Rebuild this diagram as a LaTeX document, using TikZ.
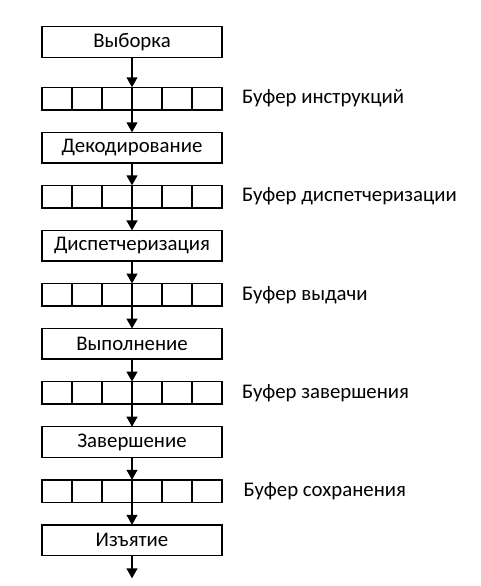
\documentclass[tikz,border=0pt]{standalone}
\usepackage{fontspec}
\setmainfont{Carlito}
\usepackage{tikz}
\usetikzlibrary{positioning, arrows.meta, calc}

\begin{document}
\begin{tikzpicture}[
    node distance=16.9pt,
    every node/.style={font=\fontsize{15.6pt}{18pt}\selectfont},
    stage/.style={rectangle, draw, line width=1.1pt, outer sep=0pt, minimum width=135pt, minimum height=22.9pt, inner sep=0pt},
    buf/.style={rectangle, draw, line width=1.1pt, outer sep=0pt, minimum width=135pt, minimum height=16.9pt, inner sep=0pt},
    lbl/.style={inner sep=0pt},
    arr/.style={-{Triangle[length=7.5pt, width=8pt]}, line width=1.5pt},
]
    \useasboundingbox (0,0) rectangle (360.75pt,-439.5pt);

    \node[stage] at (99pt,-31.5pt) (fetch) {Выборка};
    \node[buf, below=22.5pt of fetch] (b1) {};
    \node[stage, below=of b1] (decode) {Декодирование};
    \node[buf, below=of decode] (b2) {};
    \node[stage, below=of b2] (dispatch) {Диспетчеризация};
    \node[buf, below=of dispatch] (b3) {};
    \node[stage, below=of b3] (exec) {Выполнение};
    \node[buf, below=of exec] (b4) {};
    \node[stage, below=of b4] (complete) {Завершение};
    \node[buf, below=of complete] (b5) {};
    \node[stage, below=of b5] (retire) {Изъятие};
    \coordinate[below=17.25pt of retire] (out);

    % buffer labels
    \node[lbl, right=14.8pt of b1] {Буфер инструкций};
    \node[lbl, right=14.8pt of b2] {Буфер диспетчеризации};
    \node[lbl, right=14.8pt of b3] {Буфер выдачи};
    \node[lbl, right=14.8pt of b4] {Буфер завершения};
    \node[lbl, right=16pt of b5] {Буфер сохранения};

    % buffer cells
    \foreach \b in {b1,b2,b3,b4,b5}
        \foreach \i in {1,...,5}
            \draw[line width=1.1pt] ($(\b.north west)!\i/6!(\b.north east)$) -- ($(\b.south west)!\i/6!(\b.south east)$);

    \draw[arr] (fetch) -- (b1);
    \draw[arr] (b1.north) -- (decode);
    \draw[arr] (decode) -- (b2);
    \draw[arr] (b2.north) -- (dispatch);
    \draw[arr] (dispatch) -- (b3);
    \draw[arr] (b3.north) -- (exec);
    \draw[arr] (exec) -- (b4);
    \draw[arr] (b4.north) -- (complete);
    \draw[arr] (complete) -- (b5);
    \draw[arr] (b5.north) -- (retire);
    \draw[arr] (retire) -- (out);
\end{tikzpicture}
\end{document}
